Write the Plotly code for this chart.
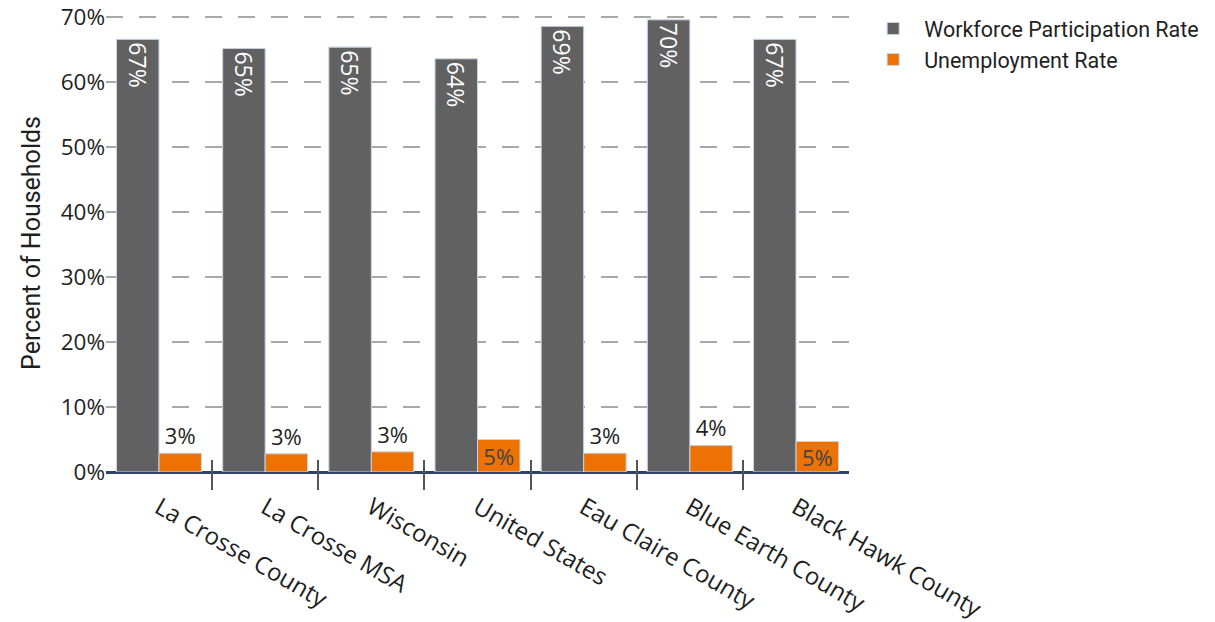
import plotly.graph_objects as go

categories = ["La Crosse County", "La Crosse MSA", "Wisconsin", "United States",
              "Eau Claire County", "Blue Earth County", "Black Hawk County"]
workforce = [66.6, 65.2, 65.4, 63.6, 68.6, 69.6, 66.6]
unemployment = [2.9, 2.8, 3.1, 5.0, 2.9, 4.1, 4.7]
series_names = ["Workforce Participation Rate", "Unemployment Rate"]
y_ticks = [0, 10, 20, 30, 40, 50, 60, 70]
y_ticktext = [f"{v}%" for v in y_ticks]

GRAY = "#616161"
ORANGE = "#EE7203"
OUTLINE = "#c9d3e2"
TEXT = "#1f1f1f"

fig = go.Figure()
fig.add_trace(go.Bar(
    x=categories, y=workforce, name=series_names[0],
    marker=dict(color=GRAY, line=dict(color=OUTLINE, width=1)),
    texttemplate="%{y:.0f}%", textposition="inside", insidetextanchor="end",
    textangle=90, constraintext="none",
    insidetextfont=dict(color="white", size=23, family="Open Sans"),
))
fig.add_trace(go.Bar(
    x=categories, y=unemployment, name=series_names[1],
    marker=dict(color=ORANGE, line=dict(color=OUTLINE, width=1)),
    texttemplate="%{y:.0f}%",
    textposition=["inside" if v >= 4.5 else "outside" for v in unemployment],
    insidetextanchor="middle", textangle=0, constraintext="none",
    insidetextfont=dict(color="#444444", size=22, family="Open Sans"),
    outsidetextfont=dict(color=TEXT, size=22, family="Open Sans"),
    cliponaxis=False,
))

fig.update_layout(
    width=1215, height=622,
    margin=dict(l=98, r=374, t=6, b=158, autoexpand=False),
    paper_bgcolor="white", plot_bgcolor="white",
    barmode="group", bargap=0.2, bargroupgap=0.0,
    font=dict(family="Open Sans", color=TEXT, size=20),
    showlegend=True,
    legend=dict(xref="container", yref="container", x=0.703, y=1.0145,
                xanchor="left", yanchor="top", itemwidth=52,
                font=dict(family="Roboto", size=21.5, color=TEXT),
                bgcolor="rgba(0,0,0,0)"),
    xaxis=dict(
        type="category", range=[-0.499, 6.499], automargin=False,
        tickangle=30, tickson="boundaries",
        ticks="outside", ticklen=30, tickwidth=1.5, tickcolor="#555555",
        showline=False, showgrid=False, zeroline=False,
        anchor="free", position=0.0284,
        ticklabelstandoff=29,
        tickfont=dict(family="Open Sans", size=24, color=TEXT),
    ),
    yaxis=dict(
        range=[0, 70.5], tickvals=y_ticks, ticktext=y_ticktext, automargin=False,
        ticklabeloverflow="allow",
        showgrid=True, gridcolor="#a8a8a8", gridwidth=2.3, griddash="17px,16px",
        zeroline=True, zerolinecolor="#2f4263", zerolinewidth=3,
        showline=False, ticks="",
        tickfont=dict(family="Open Sans", size=22.5, color=TEXT),
        title=dict(text="Percent of Households", standoff=12,
                   font=dict(family="Roboto", size=25, color=TEXT)),
    ),
)

fig.write_html("out.html")
